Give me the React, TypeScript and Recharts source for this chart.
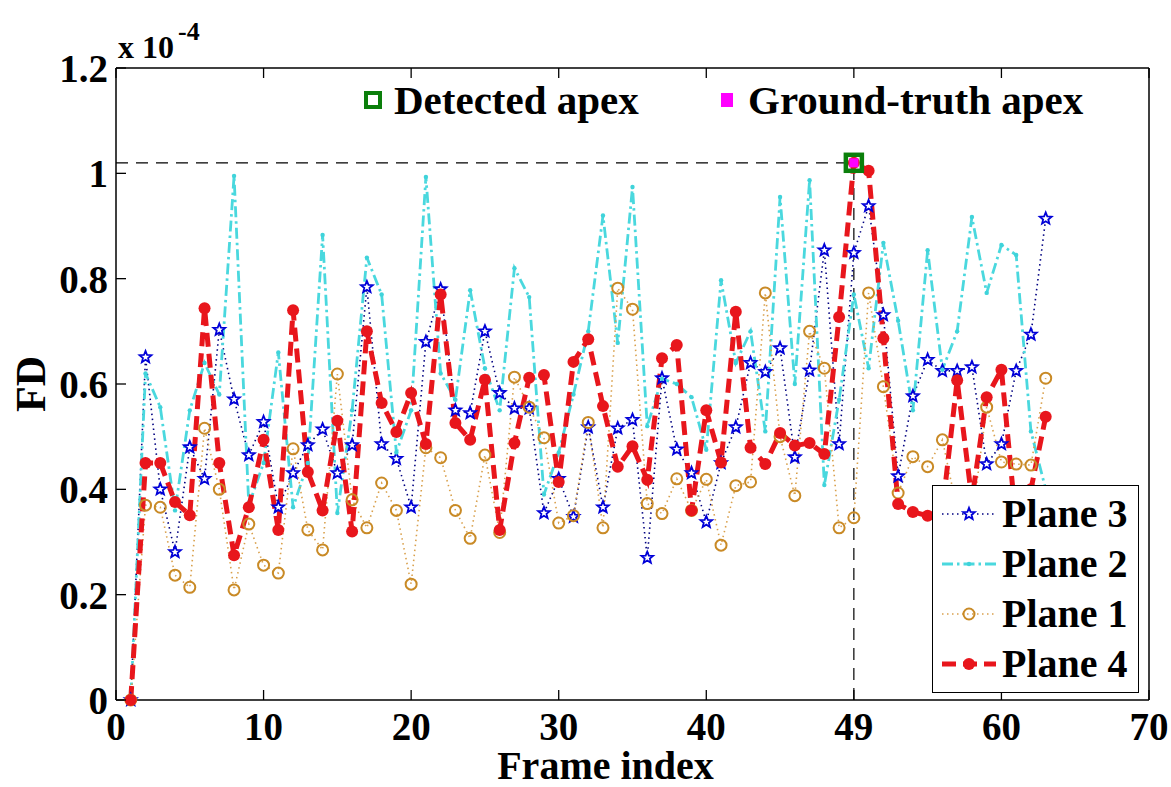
import React from "react"
import {
	ComposedChart,
	Line,
	XAxis,
	YAxis,
	ReferenceLine,
	Legend,
	Label,
} from "recharts"

const FONT = "'Liberation Serif', 'Times New Roman', serif"

// frame index 1..63, FD values in units of 1e-4
const frames = [
	1, 2, 3, 4, 5, 6, 7, 8, 9, 10, 11, 12, 13, 14, 15, 16, 17, 18, 19, 20, 21,
	22, 23, 24, 25, 26, 27, 28, 29, 30, 31, 32, 33, 34, 35, 36, 37, 38, 39, 40,
	41, 42, 43, 44, 45, 46, 47, 48, 49, 50, 51, 52, 53, 54, 55, 56, 57, 58, 59,
	60, 61, 62, 63,
]

const plane3 = [
	0, 0.651, 0.4, 0.281, 0.48, 0.42, 0.703, 0.571, 0.465, 0.528, 0.366, 0.431,
	0.484, 0.514, 0.431, 0.484, 0.784, 0.486, 0.458, 0.366, 0.68, 0.78, 0.55,
	0.545, 0.7, 0.583, 0.554, 0.554, 0.355, 0.42, 0.348, 0.518, 0.366, 0.516,
	0.532, 0.27, 0.611, 0.476, 0.431, 0.338, 0.45, 0.518, 0.64, 0.623, 0.668,
	0.461, 0.626, 0.854, 0.486, 0.849, 0.938, 0.731, 0.425, 0.577, 0.646, 0.625,
	0.625, 0.632, 0.448, 0.486, 0.625, 0.694, 0.914,
]

const plane2 = [
	0, 0.62, 0.556, 0.36, 0.55, 0.64, 0.58, 0.995, 0.37, 0.45, 0.66, 0.366, 0.45,
	0.883, 0.355, 0.55, 0.84, 0.77, 0.47, 0.55, 0.993, 0.62, 0.57, 0.778, 0.63,
	0.55, 0.82, 0.765, 0.39, 0.47, 0.58, 0.7, 0.92, 0.678, 0.974, 0.52, 0.61, 0.6,
	0.575, 0.475, 0.797, 0.64, 0.7, 0.51, 0.955, 0.6, 0.987, 0.408, 0.57, 0.77,
	0.63, 0.868, 0.72, 0.55, 0.854, 0.627, 0.7, 0.917, 0.773, 0.864, 0.845, 0.51,
	0.4,
]

const plane1 = [
	0, 0.37, 0.366, 0.237, 0.214, 0.516, 0.4, 0.209, 0.334, 0.256, 0.241, 0.477,
	0.323, 0.285, 0.619, 0.38, 0.327, 0.412, 0.36, 0.22, 0.479, 0.46, 0.36, 0.307,
	0.465, 0.318, 0.613, 0.556, 0.498, 0.336, 0.35, 0.527, 0.327, 0.782, 0.742,
	0.373, 0.354, 0.42, 0.36, 0.419, 0.294, 0.407, 0.414, 0.773, 0.5, 0.388, 0.7,
	0.63, 0.327, 0.346, 0.773, 0.595, 0.393, 0.462, 0.443, 0.494, 0.36, 0.34,
	0.556, 0.452, 0.448, 0.446, 0.611,
]

const plane4 = [
	0, 0.45, 0.45, 0.376, 0.351, 0.744, 0.45, 0.275, 0.366, 0.494, 0.323, 0.74,
	0.433, 0.36, 0.53, 0.32, 0.7, 0.564, 0.509, 0.583, 0.486, 0.77, 0.526, 0.494,
	0.608, 0.323, 0.488, 0.612, 0.617, 0.414, 0.642, 0.685, 0.558, 0.443, 0.482,
	0.418, 0.649, 0.674, 0.36, 0.55, 0.451, 0.737, 0.479, 0.448, 0.507, 0.483,
	0.488, 0.467, 0.727, 1.02, 1.005, 0.687, 0.372, 0.357, 0.35, 0.36, 0.607,
	0.38, 0.575, 0.627, 0.334, 0.4, 0.538,
]

const xTicks = [0, 10, 20, 30, 40, 50, 60, 70]
const xTickLabels = ["0", "10", "20", "30", "40", "49", "60", "70"]
const yTicks = [0, 0.2, 0.4, 0.6, 0.8, 1, 1.2]
const yTickLabels = ["0", "0.2", "0.4", "0.6", "0.8", "1", "1.2"]

const apexFrame = 50
const apexValue = 1.02

const data = frames.map((frame, i) => ({
	frame,
	p1: plane1[i],
	p2: plane2[i],
	p3: plane3[i],
	p4: plane4[i],
	apex: frame === apexFrame ? apexValue : null,
}))

const starPath = (cx: number, cy: number, R: number, r: number) => {
	let d = ""
	for (let k = 0; k < 10; k++) {
		const rad = k % 2 === 0 ? R : r
		const a = -Math.PI / 2 + (k * Math.PI) / 5
		d += (k === 0 ? "M" : "L") + (cx + rad * Math.cos(a)).toFixed(2) + "," + (cy + rad * Math.sin(a)).toFixed(2)
	}
	return d + "Z"
}

const StarMark = ({ cx, cy }: any) => (
	<path d={starPath(cx, cy, 6.2, 2.7)} fill='#fff' stroke='#0000d8' strokeWidth={1.8} />
)
const CircleMark = ({ cx, cy }: any) => (
	<circle cx={cx} cy={cy} r={5.5} fill='none' stroke='#c98a26' strokeWidth={2} />
)
const DotMark = ({ cx, cy }: any) => <circle cx={cx} cy={cy} r={6} fill='#e8161c' />
const SmallMark = ({ cx, cy }: any) => <circle cx={cx} cy={cy} r={2.2} fill='#3fd3da' />

const series = [
	{ key: "p3", name: "Plane 3", color: "#000080", width: 1.6, dash: "1.5 3.5", Mark: StarMark },
	{ key: "p2", name: "Plane 2", color: "#4ad8de", width: 2.8, dash: "11 4 2.5 4", Mark: SmallMark },
	{ key: "p1", name: "Plane 1", color: "#d9a04c", width: 1.6, dash: "1.5 3.5", Mark: CircleMark },
	{ key: "p4", name: "Plane 4", color: "#e8161c", width: 5, dash: "14 7", Mark: DotMark },
]

const tickText = {
	fontFamily: FONT,
	fontWeight: "bold" as const,
	fontSize: 39,
	fill: "#000",
}

const BottomTick = ({ x, y, payload }: any) => (
	<g>
		<line x1={x} y1={y} x2={x} y2={y - 10} stroke='#000' strokeWidth={1.3} />
		<text x={x} y={y + 40} textAnchor='middle' {...tickText}>
			{xTickLabels[xTicks.indexOf(payload.value)]}
		</text>
	</g>
)
const TopTick = ({ x, y }: any) => (
	<line x1={x} y1={y} x2={x} y2={y + 10} stroke='#000' strokeWidth={1.3} />
)
const LeftTick = ({ x, y, payload }: any) => (
	<g>
		<line x1={x} y1={y} x2={x + 10} y2={y} stroke='#000' strokeWidth={1.3} />
		<text x={x - 8} y={y + 14} textAnchor='end' {...tickText}>
			{yTickLabels[yTicks.indexOf(payload.value)]}
		</text>
	</g>
)
const RightTick = ({ x, y }: any) => (
	<line x1={x} y1={y} x2={x - 10} y2={y} stroke='#000' strokeWidth={1.3} />
)

const ApexDot = ({ cx, cy, value, index }: any) =>
	value == null ? (
		<g key={"apex" + index} />
	) : (
		<g key={"apex" + index}>
			<rect x={cx - 8} y={cy - 8} width={16} height={16} fill='none' stroke='#0b7f0b' strokeWidth={4.5} />
			<rect x={cx - 4.5} y={cy - 4.5} width={9} height={9} fill='#ff00ff' />
		</g>
	)

const PlaneLegend = () => (
	<div
		style={{
			width: 207,
			height: 208,
			border: "1.5px solid #000",
			background: "#fff",
			boxSizing: "border-box",
			paddingTop: 3,
		}}>
		{series.map((s) => (
			<div key={s.key} style={{ display: "flex", alignItems: "center", height: 50 }}>
				<svg width={68} height={24} style={{ flex: "none" }}>
					<line x1={9} y1={12} x2={63} y2={12} stroke={s.color} strokeWidth={s.width} strokeDasharray={s.dash} />
					<s.Mark cx={36} cy={12} />
				</svg>
				<span style={{ fontFamily: FONT, fontWeight: "bold", fontSize: 40, lineHeight: "40px", marginLeft: 1 }}>
					{s.name}
				</span>
			</div>
		))}
	</div>
)

const App = () => {
	return (
		<div style={{ position: "absolute", left: 0, top: 0, width: 1171, height: 787, background: "#fff" }}>
			<ComposedChart width={1171} height={787} data={data} margin={{ top: 67, right: 21, bottom: 27, left: 16 }}>
				<XAxis
					xAxisId='b'
					dataKey='frame'
					type='number'
					domain={[0, 70]}
					ticks={xTicks}
					interval={0}
					height={60}
					tickSize={0}
					tickMargin={0}
					tickLine={false}
					axisLine={{ stroke: "#000", strokeWidth: 1.5 }}
					tick={<BottomTick />}>
					<Label
						content={({ viewBox }: any) => (
							<text
								x={viewBox.x + viewBox.width / 2 - 27}
								y={viewBox.y + 79}
								textAnchor='middle'
								fontFamily={FONT}
								fontWeight='bold'
								fontSize={40}>
								Frame index
							</text>
						)}
					/>
				</XAxis>
				<XAxis
					xAxisId='t'
					orientation='top'
					dataKey='frame'
					type='number'
					domain={[0, 70]}
					ticks={xTicks}
					interval={0}
					height={1}
					tickSize={0}
					tickMargin={0}
					tickLine={false}
					axisLine={{ stroke: "#000", strokeWidth: 1.5 }}
					tick={<TopTick />}
				/>
				<YAxis
					yAxisId='l'
					type='number'
					domain={[0, 1.2]}
					ticks={yTicks}
					interval={0}
					width={100}
					tickSize={0}
					tickMargin={0}
					tickLine={false}
					axisLine={{ stroke: "#000", strokeWidth: 1.5 }}
					tick={<LeftTick />}>
					<Label
						content={({ viewBox }: any) => {
							const cy = viewBox.y + viewBox.height / 2
							return (
								<text
									x={45}
									y={cy}
									transform={`rotate(-90 45 ${cy})`}
									textAnchor='middle'
									fontFamily={FONT}
									fontWeight='bold'
									fontSize={42}>
									FD
								</text>
							)
						}}
					/>
				</YAxis>
				<YAxis
					yAxisId='r'
					orientation='right'
					type='number'
					domain={[0, 1.2]}
					ticks={yTicks}
					interval={0}
					width={1}
					tickSize={0}
					tickMargin={0}
					tickLine={false}
					axisLine={{ stroke: "#000", strokeWidth: 1.5 }}
					tick={<RightTick />}
				/>

				<ReferenceLine
					xAxisId='b'
					yAxisId='l'
					segment={[
						{ x: 0, y: apexValue },
						{ x: apexFrame, y: apexValue },
					]}
					stroke='#000'
					strokeWidth={1.2}
					strokeDasharray='12 8'
				/>
				<ReferenceLine
					xAxisId='b'
					yAxisId='l'
					segment={[
						{ x: apexFrame, y: 0 },
						{ x: apexFrame, y: apexValue },
					]}
					stroke='#000'
					strokeWidth={1.2}
					strokeDasharray='12 8'
				/>

				{series.map((s) => (
					<Line
						key={s.key}
						xAxisId='b'
						yAxisId='l'
						type='linear'
						dataKey={s.key}
						name={s.name}
						stroke={s.color}
						strokeWidth={s.width}
						strokeDasharray={s.dash}
						isAnimationActive={false}
						activeDot={false}
						dot={(p: any) => <s.Mark key={s.key + p.index} cx={p.cx} cy={p.cy} />}
					/>
				))}

				<Line
					xAxisId='b'
					yAxisId='l'
					dataKey='apex'
					stroke='none'
					legendType='none'
					isAnimationActive={false}
					activeDot={false}
					dot={ApexDot}
				/>

				<Legend
					layout='vertical'
					align='center'
					verticalAlign='middle'
					content={<PlaneLegend />}
					wrapperStyle={{ position: "absolute", left: 932, top: 485, width: 207, height: 208 }}
				/>
			</ComposedChart>

			<svg
				width={1171}
				height={787}
				style={{ position: "absolute", left: 0, top: 0, pointerEvents: "none" }}>
				<text x={118} y={58} fontFamily={FONT} fontWeight='bold' fontSize={32}>
					x 10
				</text>
				<text x={178} y={40} fontFamily={FONT} fontWeight='bold' fontSize={26}>
					-4
				</text>
				<rect x={366} y={93} width={14} height={14} fill='none' stroke='#0b7f0b' strokeWidth={4} />
				<text x={394} y={114} fontFamily={FONT} fontWeight='bold' fontSize={41}>
					Detected apex
				</text>
				<rect x={721} y={93} width={12} height={14} fill='#ff00ff' />
				<text x={748} y={114} fontFamily={FONT} fontWeight='bold' fontSize={41}>
					Ground-truth apex
				</text>
			</svg>
		</div>
	)
}

export default App
